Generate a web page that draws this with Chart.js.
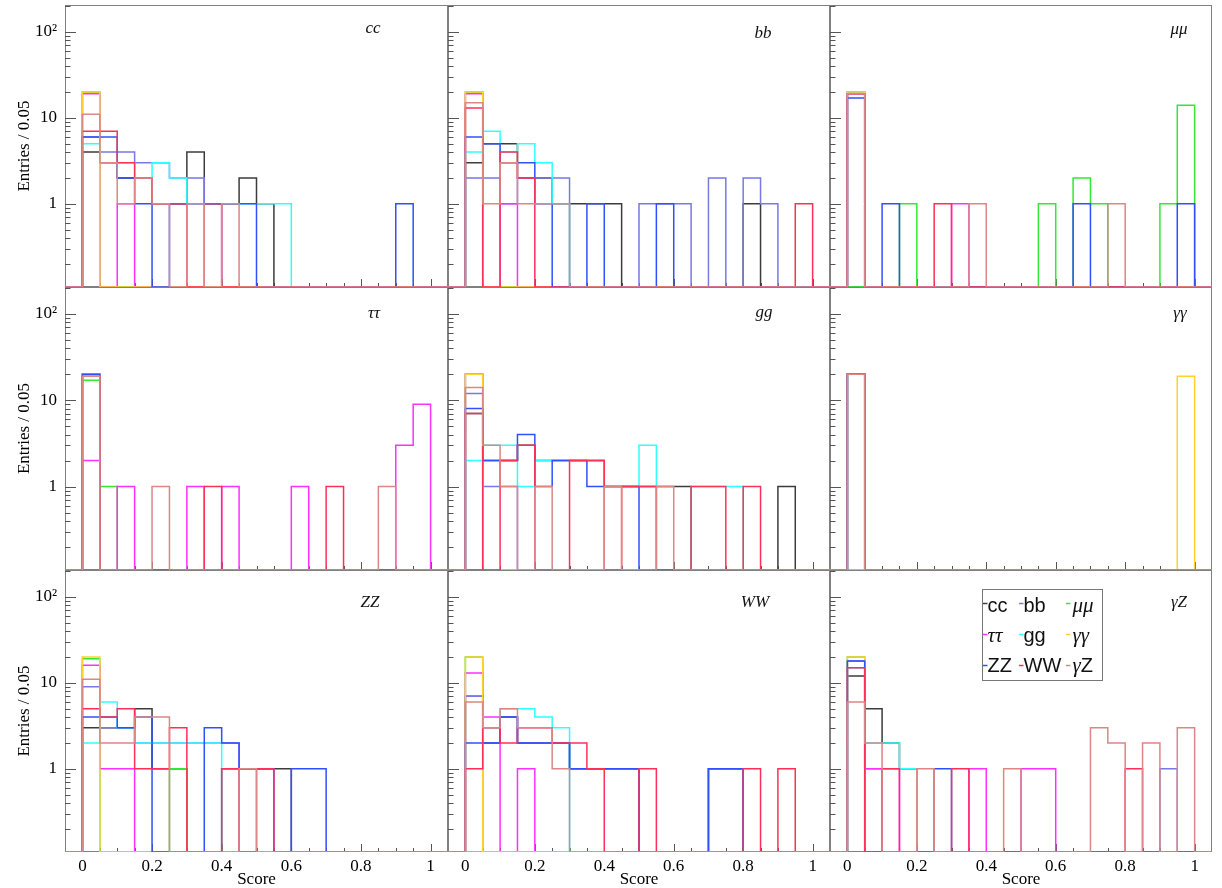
<!DOCTYPE html>
<html>
<head>
<meta charset="utf-8">
<title>Scores</title>
<script src="https://cdn.jsdelivr.net/npm/chart.js@4.4.1/dist/chart.umd.min.js"></script>
<style>
  body { margin: 0; background: #fff; }
  #wrap { position: relative; width: 1222px; height: 888px; overflow: hidden; background: #fff; }
  #wrap canvas { position: absolute; }
</style>
</head>
<body>
<div id="wrap"></div>
<script>
// lower edge of every 0.05 bin
const binLow = [0, 0.05, 0.1, 0.15, 0.2, 0.25, 0.3, 0.35, 0.4, 0.45,
                0.5, 0.55, 0.6, 0.65, 0.7, 0.75, 0.8, 0.85, 0.9, 0.95];
const sampleNames = ["cc", "bb", "μμ", "ττ", "gg", "γγ", "ZZ", "WW", "γZ"];
const sampleColors = ["#3c3c3c", "#7878e6", "#33e833", "#ff30ff", "#30ffff",
                      "#ffd030", "#3050ff", "#ff3058", "#dc8686"];
const xTicks = [0, 0.2, 0.4, 0.6, 0.8, 1];
const yTicks = [1, 10, 100];
const yTickText = ["1", "10", "10²"];

// entries per bin, one row per sample (order of sampleNames)
const scoreCC = [
  [4,3,2,2,1,1,4,1,1,2,1,0,0,0,0,0,0,0,0,0],
  [6,4,4,3,3,2,2,1,0,0,0,0,0,0,0,0,0,0,0,0],
  [20,0,0,0,0,0,0,0,0,0,0,0,0,0,0,0,0,0,0,0],
  [19,0,1,0,0,0,0,0,0,0,0,0,0,0,0,0,0,0,0,0],
  [5,3,3,2,3,2,1,1,1,1,1,1,0,0,0,0,0,0,0,0],
  [20,0,0,0,0,0,0,0,0,0,0,0,0,0,0,0,0,0,0,0],
  [6,6,2,1,0,1,1,1,1,1,0,0,0,0,0,0,0,0,1,0],
  [7,7,3,2,1,1,0,1,0,0,0,0,0,0,0,0,0,0,0,0],
  [11,3,1,2,1,0,1,0,1,0,0,0,0,0,0,0,0,0,0,0]
];
const scoreBB = [
  [3,5,5,2,2,1,1,1,1,0,0,0,0,0,0,0,1,0,0,0],
  [2,2,1,2,2,2,0,0,0,0,1,1,1,0,2,0,2,1,0,0],
  [20,0,0,0,0,0,0,0,0,0,0,0,0,0,0,0,0,0,0,0],
  [19,0,1,0,0,0,0,0,0,0,0,0,0,0,0,0,0,0,0,0],
  [4,7,4,5,3,1,0,0,0,0,0,0,0,0,0,0,0,0,0,0],
  [20,0,0,0,0,0,0,0,0,0,0,0,0,0,0,0,0,0,0,0],
  [6,5,3,3,1,0,0,1,0,0,0,1,0,0,0,0,0,0,0,0],
  [13,0,4,2,0,0,0,0,0,0,0,0,0,0,0,0,0,0,0,1],
  [15,1,3,1,1,1,0,0,0,0,0,0,0,0,0,0,0,0,0,0]
];
const scoreMM = [
  [20,0,0,0,0,0,0,0,0,0,0,0,0,0,0,0,0,0,0,0],
  [19,0,0,0,0,0,0,0,0,0,0,0,0,0,0,0,0,0,0,0],
  [0,0,0,1,0,0,0,0,0,0,0,1,0,2,1,0,0,0,1,14],
  [19,0,0,0,0,0,1,0,0,0,0,0,0,0,0,0,0,0,0,0],
  [20,0,0,0,0,0,0,0,0,0,0,0,0,0,0,0,0,0,0,0],
  [20,0,0,0,0,0,0,0,0,0,0,0,0,0,0,0,0,0,0,0],
  [17,0,1,0,0,0,0,0,0,0,0,0,0,1,0,0,0,0,0,1],
  [19,0,0,0,0,1,0,0,0,0,0,0,0,0,0,0,0,0,0,0],
  [19,0,0,0,0,0,0,1,0,0,0,0,0,0,0,1,0,0,0,0]
];
const scoreTT = [
  [20,0,0,0,0,0,0,0,0,0,0,0,0,0,0,0,0,0,0,0],
  [20,0,0,0,0,0,0,0,0,0,0,0,0,0,0,0,0,0,0,0],
  [17,1,0,0,0,0,0,0,0,0,0,0,0,0,0,0,0,0,0,0],
  [2,0,1,0,0,0,1,0,1,0,0,0,1,0,0,0,0,0,3,9],
  [20,0,0,0,0,0,0,0,0,0,0,0,0,0,0,0,0,0,0,0],
  [20,0,0,0,0,0,0,0,0,0,0,0,0,0,0,0,0,0,0,0],
  [20,0,0,0,0,0,0,0,0,0,0,0,0,0,0,0,0,0,0,0],
  [19,0,0,0,0,0,0,1,0,0,0,0,0,0,1,0,0,0,0,0],
  [19,0,0,0,1,0,0,0,0,0,0,0,0,0,0,0,0,1,0,0]
];
const scoreGG = [
  [7,2,2,3,2,2,2,2,1,1,1,1,1,0,0,0,0,0,1,0],
  [12,1,1,0,0,0,0,0,0,0,0,0,0,0,0,0,0,0,0,0],
  [20,0,0,0,0,0,0,0,0,0,0,0,0,0,0,0,0,0,0,0],
  [20,0,0,0,0,0,0,0,0,0,0,0,0,0,0,0,0,0,0,0],
  [2,3,3,1,2,2,2,2,1,1,3,0,0,1,1,1,0,0,0,0],
  [20,0,0,0,0,0,0,0,0,0,0,0,0,0,0,0,0,0,0,0],
  [8,2,2,4,1,2,2,1,1,1,0,0,0,0,0,0,0,0,0,0],
  [7,0,2,3,0,0,2,2,0,1,1,0,0,1,1,0,1,0,0,0],
  [14,3,1,0,1,0,0,0,1,0,0,1,0,0,0,0,0,0,0,0]
];
const scoreAA = [
  [20,0,0,0,0,0,0,0,0,0,0,0,0,0,0,0,0,0,0,0],
  [20,0,0,0,0,0,0,0,0,0,0,0,0,0,0,0,0,0,0,0],
  [20,0,0,0,0,0,0,0,0,0,0,0,0,0,0,0,0,0,0,0],
  [20,0,0,0,0,0,0,0,0,0,0,0,0,0,0,0,0,0,0,0],
  [20,0,0,0,0,0,0,0,0,0,0,0,0,0,0,0,0,0,0,0],
  [0,0,0,0,0,0,0,0,0,0,0,0,0,0,0,0,0,0,0,19],
  [20,0,0,0,0,0,0,0,0,0,0,0,0,0,0,0,0,0,0,0],
  [20,0,0,0,0,0,0,0,0,0,0,0,0,0,0,0,0,0,0,0],
  [20,0,0,0,0,0,0,0,0,0,0,0,0,0,0,0,0,0,0,0]
];
const scoreZZ = [
  [3,3,3,5,1,1,0,0,1,1,1,1,0,0,0,0,0,0,0,0],
  [9,3,3,2,2,2,2,2,2,0,0,0,0,0,0,0,0,0,0,0],
  [19,0,0,0,0,1,0,0,0,0,0,0,0,0,0,0,0,0,0,0],
  [16,1,1,0,0,0,0,0,0,0,0,0,0,0,0,0,0,0,0,0],
  [2,6,3,2,2,2,2,2,0,0,0,0,0,0,0,0,0,0,0,0],
  [20,0,0,0,0,0,0,0,0,0,0,0,0,0,0,0,0,0,0,0],
  [4,4,3,4,0,0,0,3,2,1,1,0,1,1,0,0,0,0,0,0],
  [5,4,5,1,1,3,0,0,1,0,1,0,0,0,0,0,0,0,0,0],
  [11,2,2,4,4,0,0,0,0,1,0,0,0,0,0,0,0,0,0,0]
];
const scoreWW = [
  [7,2,4,2,2,2,1,1,1,1,0,0,0,0,1,1,0,0,0,0],
  [7,2,4,2,2,2,1,1,1,1,0,0,0,0,1,1,0,0,0,0],
  [20,0,0,0,0,0,0,0,0,0,0,0,0,0,0,0,0,0,0,0],
  [13,4,0,1,0,0,0,0,0,0,0,0,0,0,0,0,0,0,0,0],
  [0,3,5,5,4,3,0,0,0,0,0,0,0,0,0,0,0,0,0,0],
  [20,0,0,0,0,0,0,0,0,0,0,0,0,0,0,0,0,0,0,0],
  [2,2,4,2,2,2,1,1,1,1,0,0,0,0,1,1,0,0,0,0],
  [1,3,2,3,3,2,2,1,0,0,1,0,0,0,0,0,1,0,1,0],
  [6,3,5,3,3,1,0,0,0,0,0,0,0,0,0,0,0,0,0,0]
];
const scoreAZ = [
  [12,5,2,1,0,0,0,0,0,0,0,0,0,0,0,0,0,0,0,0],
  [18,1,0,0,0,0,0,0,0,0,0,0,0,0,0,0,0,0,1,0],
  [20,0,0,0,0,0,0,0,0,0,0,0,0,0,0,0,0,0,0,0],
  [15,1,1,0,0,0,0,1,0,0,1,1,0,0,0,0,0,0,0,0],
  [15,2,2,1,0,0,0,0,0,0,0,0,0,0,0,0,0,0,0,0],
  [20,0,0,0,0,0,0,0,0,0,0,0,0,0,0,0,0,0,0,0],
  [18,0,0,0,0,1,0,0,0,0,0,0,0,0,0,0,0,0,0,0],
  [15,0,1,0,0,0,1,0,0,0,0,0,0,0,0,0,1,0,0,0],
  [6,2,0,0,1,0,0,0,0,1,0,0,0,0,3,2,0,2,0,3]
];

const panelTitles = ["cc", "bb", "μμ", "ττ", "gg", "γγ", "ZZ", "WW", "γZ"];
const panelScores = [scoreCC, scoreBB, scoreMM, scoreTT, scoreGG, scoreAA, scoreZZ, scoreWW, scoreAZ];

// layout (page pixels)
const AREA_L = [65, 448, 830], AREA_R = [448, 830, 1212];
const AREA_T = [5, 287, 570], AREA_B = [287, 570, 852];
const TITLE_POS = [[373, 33], [763, 37.5], [1179, 34], [374, 318], [764, 317],
                   [1180, 318], [370, 607], [755, 607], [1179, 607]];
const X_MIN = -0.05, X_MAX = 1.05, Y_MIN = 0.108, Y_MAX = 205;
const SERIF = '"Liberation Serif", "Times New Roman", serif';
const SANS = '"Liberation Sans", Arial, sans-serif';

// histogram outline; empty bins sit on the axis floor
function histPoints(counts) {
  const pts = [{ x: X_MIN, y: Y_MIN }];
  counts.forEach((c, i) => pts.push({ x: binLow[i], y: c > 0 ? c : Y_MIN }));
  pts.push({ x: 1, y: Y_MIN });
  pts.push({ x: X_MAX, y: Y_MIN });
  return pts;
}

function drawRich(ctx, text, x, y) {
  for (const ch of text) {
    const greek = ch >= "\u0370" && ch <= "\u03ff";
    ctx.font = greek ? "italic 21px " + SERIF : "20px " + SANS;
    ctx.fillText(ch, x, y);
    x += ctx.measureText(ch).width;
  }
}

function drawLegend(ctx, ox, oy) {
  ctx.fillStyle = "#fff";
  ctx.fillRect(982 - ox, 589 - oy, 120, 91);
  ctx.strokeStyle = "#777";
  ctx.lineWidth = 1;
  ctx.strokeRect(982.5 - ox, 589.5 - oy, 120, 91);
  const dashX = [983, 1019, 1066], textX = [987.5, 1023.5, 1072.5];
  const dashY = [603.5, 634.5, 665.5], baseY = [612, 642, 672];
  ctx.textAlign = "left";
  ctx.textBaseline = "alphabetic";
  sampleNames.forEach((name, i) => {
    const r = Math.floor(i / 3), c = i % 3;
    ctx.strokeStyle = sampleColors[i];
    ctx.lineWidth = 1.5;
    ctx.beginPath();
    ctx.moveTo(dashX[c] - ox, dashY[r] - oy);
    ctx.lineTo(dashX[c] + 4.5 - ox, dashY[r] - oy);
    ctx.stroke();
    ctx.fillStyle = "#111";
    drawRich(ctx, name, textX[c] - ox, baseY[r] - oy);
  });
}

//frame, inner ticks, panel title, legend
const panelDeco = {
  id: "panelDeco",
  beforeDatasetsDraw(chart, args, o) {
    const { ctx, chartArea: a } = chart;
    const x = chart.scales.x, y = chart.scales.y;
    ctx.save();
    ctx.strokeStyle = "#808080";
    ctx.lineWidth = 1;
    ctx.strokeRect(a.left + 0.5, a.top + 0.5, a.right - a.left - 1, a.bottom - a.top - 1);
    ctx.strokeStyle = "#555";
    ctx.beginPath();
    for (let d = 0.1; d < 1000; d *= 10) {
      for (let k = 1; k <= 9; k++) {
        const v = k * d;
        if (v <= Y_MIN || v >= Y_MAX) continue;
        const py = Math.round(y.getPixelForValue(v)) + 0.5;
        const len = k === 1 ? 11 : 5.5;
        ctx.moveTo(a.left, py);
        ctx.lineTo(a.left + len, py);
      }
    }
    for (let i = 0; i <= 20; i++) {
      const px = Math.round(x.getPixelForValue(i * 0.05)) + 0.5;
      const len = i % 4 === 0 ? 8 : 4;
      ctx.moveTo(px, a.bottom);
      ctx.lineTo(px, a.bottom - len);
    }
    ctx.stroke();
    ctx.restore();
  },
  afterDatasetsDraw(chart, args, o) {
    const ctx = chart.ctx;
    ctx.save();
    ctx.fillStyle = "#111";
    ctx.font = "italic 17px " + SERIF;
    ctx.textAlign = "center";
    ctx.textBaseline = "alphabetic";
    ctx.fillText(o.title, o.tx - o.ox, o.ty - o.oy);
    if (o.legend) drawLegend(ctx, o.ox, o.oy);
    ctx.restore();
  }
};
Chart.register(panelDeco);

const wrap = document.getElementById("wrap");

panelScores.forEach((scores, idx) => {
  const col = idx % 3, row = Math.floor(idx / 3);
  const left = col === 0 ? 0 : AREA_L[col] - 3;
  const right = AREA_R[col] + 3;
  const top = row === 0 ? 0 : AREA_T[row] - 3;
  const bottom = row === 2 ? 888 : AREA_B[row] + 3;

  const canvas = document.createElement("canvas");
  canvas.width = right - left;
  canvas.height = bottom - top;
  canvas.style.left = left + "px";
  canvas.style.top = top + "px";
  wrap.appendChild(canvas);

  const datasets = sampleNames.map((name, i) => ({
    label: name,
    data: histPoints(scores[i]),
    borderColor: sampleColors[i],
    borderWidth: 1.5,
    stepped: "before",
    pointRadius: 0,
    fill: false,
    order: sampleNames.length - i
  }));

  new Chart(canvas, {
    type: "line",
    data: { datasets },
    options: {
      responsive: false,
      animation: false,
      devicePixelRatio: 1,
      events: [],
      layout: {
        padding: {
          left: col === 0 ? 0 : 3,
          right: 3,
          top: row === 0 ? 5 : 3,
          bottom: row === 2 ? 0 : 3
        }
      },
      plugins: {
        legend: { display: false },
        tooltip: { enabled: false },
        panelDeco: {
          title: panelTitles[idx],
          tx: TITLE_POS[idx][0],
          ty: TITLE_POS[idx][1],
          ox: left,
          oy: top,
          legend: idx === 8
        }
      },
      scales: {
        x: {
          type: "linear",
          min: X_MIN,
          max: X_MAX,
          bounds: "data",
          display: row === 2,
          grid: { display: false },
          border: { display: false },
          afterBuildTicks: (s) => { s.ticks = xTicks.map((v) => ({ value: v })); },
          afterFit: row === 2 ? (s) => { s.height = 36; s.paddingLeft = 0; s.paddingRight = 0; } : undefined,
          ticks: {
            color: "#000",
            font: { family: SERIF, size: 17 },
            padding: -4,
            maxRotation: 0,
            autoSkip: false,
            callback: (v) => String(v)
          },
          title: {
            display: true,
            text: "Score",
            color: "#000",
            font: { family: SERIF, size: 17, lineHeight: 1 },
            padding: 0
          }
        },
        y: {
          type: "logarithmic",
          min: Y_MIN,
          max: Y_MAX,
          bounds: "data",
          position: "left",
          display: col === 0,
          grid: { display: false },
          border: { display: false },
          afterBuildTicks: (s) => { s.ticks = yTicks.map((v) => ({ value: v })); },
          afterFit: col === 0 ? (s) => { s.width = 65; s.paddingTop = 0; s.paddingBottom = 0; } : undefined,
          ticks: {
            color: "#000",
            font: { family: SERIF, size: 17 },
            padding: 0,
            autoSkip: false,
            callback: (v) => yTickText[yTicks.indexOf(v)]
          },
          title: {
            display: true,
            text: "Entries / 0.05",
            color: "#000",
            font: { family: SERIF, size: 17, lineHeight: 1 },
            padding: { top: 16, bottom: 0 }
          }
        }
      }
    }
  });
});
</script>
</body>
</html>
